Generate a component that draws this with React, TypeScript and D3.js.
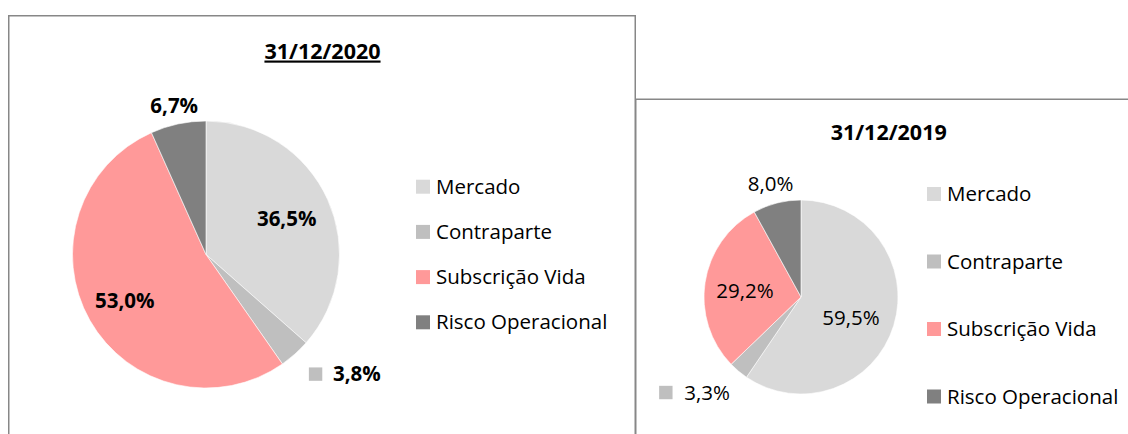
import React from "react";
import * as d3 from "d3";

const categories = ["Mercado", "Contraparte", "Subscrição Vida", "Risco Operacional"];
const colors = ["#d9d9d9", "#bfbfbf", "#ff9999", "#808080"];
const values2020 = [36.5, 3.8, 53.0, 6.7];
const values2019 = [59.5, 3.3, 29.2, 8.0];
const title2020 = "31/12/2020";
const title2019 = "31/12/2019";

const FONT = "'Open Sans', 'Noto Sans', sans-serif";

type PanelProps = {
  title: string;
  values: number[];
  cx: number;
  cy: number;
  r: number;
  titleX: number;
  titleY: number;
  underline: boolean;
  bold: boolean;
  labelPlace: [number, number, boolean][];
  legendX: number;
  legendY0: number;
  legendStep: number;
};

function fmt(v: number) {
  return d3.format(".1f")(v).replace(".", ",") + "%";
}

function PiePanel(p: PanelProps) {
  const pie = d3.pie<number>().sort(null).value((d) => d);
  const arcs = pie(p.values);
  const arc = d3.arc<d3.PieArcDatum<number>>().innerRadius(0).outerRadius(p.r);
  return (
    <g>
      <text
        x={p.titleX}
        y={p.titleY}
        textAnchor="middle"
        dy="0.35em"
        fontFamily={FONT}
        fontWeight="bold"
        fontSize={21.5}
        textDecoration={p.underline ? "underline" : undefined}
        fill="#000"
      >
        {p.title}
      </text>
      <g transform={`translate(${p.cx},${p.cy})`}>
        {arcs.map((a, i) => (
          <path key={i} d={arc(a) || ""} fill={colors[i]} stroke="#fff" strokeWidth={0.6} />
        ))}
      </g>
      {arcs.map((a, i) => {
        const [k, off, keyed] = p.labelPlace[i];
        const ang = (a.startAngle + a.endAngle) / 2 + (off * Math.PI) / 180;
        const x = p.cx + k * p.r * Math.sin(ang);
        const y = p.cy - k * p.r * Math.cos(ang);
        return (
          <g key={i}>
            {keyed && (
              <rect x={x - 36} y={y - 6.7} width={13.4} height={13.4} fill={colors[i]} />
            )}
            <text
              x={keyed ? x + 12 : x}
              y={y}
              dy="0.35em"
              textAnchor="middle"
              fontFamily={FONT}
              fontWeight={p.bold ? "bold" : "normal"}
              fontSize={20.5}
              fill="#000"
            >
              {fmt(a.data)}
            </text>
          </g>
        );
      })}
      {categories.map((c, i) => {
        const y = p.legendY0 + i * p.legendStep;
        return (
          <g key={c}>
            <rect x={p.legendX} y={y - 7} width={14} height={14} fill={colors[i]} />
            <text
              x={p.legendX + 20}
              y={y}
              dy="0.35em"
              fontFamily={FONT}
              fontSize={20.5}
              fill="#000"
            >
              {c}
            </text>
          </g>
        );
      })}
    </g>
  );
}

export default function App() {
  return (
    <div style={{ position: "absolute", left: 0, top: 0 }}>
      <svg width={1128} height={434} style={{ display: "block", background: "#fff" }}>
        <rect x={8.75} y={15.75} width={626.5} height={440} fill="#fff" stroke="#878787" strokeWidth={1.5} />
        <rect x={635.75} y={99.25} width={520} height={360} fill="#fff" stroke="#878787" strokeWidth={1.5} />
        <PiePanel
          title={title2020}
          values={values2020}
          cx={206}
          cy={254.5}
          r={133.5}
          titleX={322.5}
          titleY={51}
          underline={true}
          bold={true}
          labelPlace={[
            [0.66, 0.6, false],
            [1.373, -7.5, true],
            [0.7, 0, false],
            [1.14, 0, false],
          ]}
          legendX={416}
          legendY0={186.7}
          legendStep={45.2}
        />
        <PiePanel
          title={title2019}
          values={values2019}
          cx={801}
          cy={297}
          r={97}
          titleX={888.7}
          titleY={132}
          underline={false}
          bold={false}
          labelPlace={[
            [0.56, 5.7, false],
            [1.47, 7.8, true],
            [0.58, -2.6, false],
            [1.21, -0.6, false],
          ]}
          legendX={927}
          legendY0={194}
          legendStep={67.5}
        />
      </svg>
    </div>
  );
}
